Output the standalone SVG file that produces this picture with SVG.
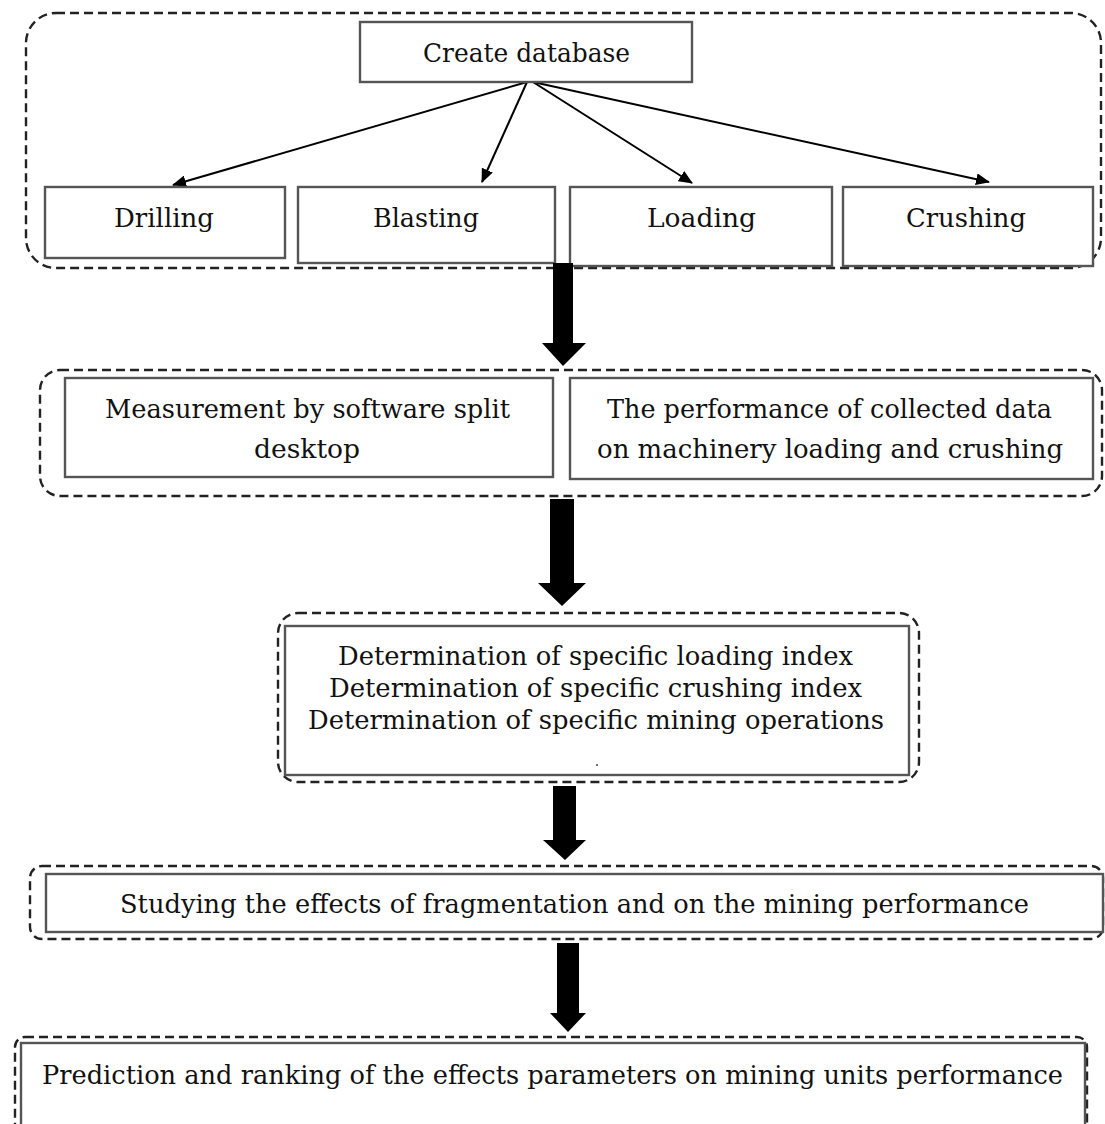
<svg xmlns="http://www.w3.org/2000/svg" width="1105" height="1124" viewBox="0 0 1105 1124">
<defs>
<style>
.cont{fill:none;stroke:#222;stroke-width:2.4;stroke-dasharray:9 5}
.box{fill:#fff;stroke:#555;stroke-width:2.4}
.t{font-family:"DejaVu Serif","Liberation Serif",serif;font-size:26px;fill:#111}
.ln{stroke:#000;stroke-width:2;fill:none}
.big{fill:#000}
</style>
<marker id="ah" viewBox="0 0 14 12" refX="13" refY="6" markerWidth="14" markerHeight="12" markerUnits="userSpaceOnUse" orient="auto">
<path d="M0,0 L14,6 L0,12 z" fill="#000"/>
</marker>
</defs>
<rect width="1105" height="1124" fill="#fff"/>

<g id="container1"><rect class="cont" x="26" y="13" width="1075" height="255" rx="30"/></g>
<g id="container2"><rect class="cont" x="40" y="370" width="1062" height="126" rx="20"/></g>
<g id="container3"><rect class="cont" x="278" y="613" width="641" height="169" rx="20"/></g>
<g id="container4"><rect class="cont" x="30" y="866" width="1073" height="73" rx="12"/></g>
<g id="container5"><rect class="cont" x="15" y="1037" width="1072" height="100" rx="10"/></g>

<g id="connectors">
<line class="ln" x1="527" y1="82" x2="173" y2="185" marker-end="url(#ah)"/>
<line class="ln" x1="527" y1="82" x2="482" y2="182" marker-end="url(#ah)"/>
<line class="ln" x1="533" y1="82" x2="692" y2="183" marker-end="url(#ah)"/>
<line class="ln" x1="533" y1="82" x2="989" y2="182" marker-end="url(#ah)"/>
</g>

<g id="create-database">
<rect class="box" x="360" y="22" width="332" height="60"/>
<text class="t" x="423" y="62" textLength="207" lengthAdjust="spacingAndGlyphs">Create database</text>
</g>
<g id="drilling">
<rect class="box" x="45" y="187" width="240" height="71"/>
<text class="t" x="114" y="227" textLength="100" lengthAdjust="spacingAndGlyphs">Drilling</text>
</g>
<g id="blasting">
<rect class="box" x="298" y="187" width="257" height="76"/>
<text class="t" x="373" y="227" textLength="106" lengthAdjust="spacingAndGlyphs">Blasting</text>
</g>
<g id="loading">
<rect class="box" x="570" y="187" width="262" height="79"/>
<text class="t" x="647" y="227" textLength="109" lengthAdjust="spacingAndGlyphs">Loading</text>
</g>
<g id="crushing">
<rect class="box" x="843" y="187" width="250" height="79"/>
<text class="t" x="906" y="227" textLength="120" lengthAdjust="spacingAndGlyphs">Crushing</text>
</g>

<g id="measurement">
<rect class="box" x="65" y="378" width="488" height="99"/>
<text class="t" x="105" y="418" textLength="405" lengthAdjust="spacingAndGlyphs">Measurement by software split</text>
<text class="t" x="254" y="458" textLength="106" lengthAdjust="spacingAndGlyphs">desktop</text>
</g>
<g id="performance">
<rect class="box" x="570" y="378" width="523" height="101"/>
<text class="t" x="607" y="418" textLength="445" lengthAdjust="spacingAndGlyphs">The performance of collected data</text>
<text class="t" x="597" y="458" textLength="466" lengthAdjust="spacingAndGlyphs">on machinery loading and crushing</text>
</g>

<g id="determination">
<rect class="box" x="285" y="626" width="624" height="149"/>
<text class="t" x="338" y="665" textLength="515" lengthAdjust="spacingAndGlyphs">Determination of specific loading index</text>
<text class="t" x="329" y="697" textLength="533" lengthAdjust="spacingAndGlyphs">Determination of specific crushing index</text>
<text class="t" x="308" y="729" textLength="576" lengthAdjust="spacingAndGlyphs">Determination of specific mining operations</text>
<circle cx="597" cy="765" r="1" fill="#444"/>
</g>

<g id="studying">
<rect class="box" x="46" y="874" width="1057" height="58"/>
<text class="t" x="120" y="913" textLength="909" lengthAdjust="spacingAndGlyphs">Studying the effects of fragmentation and on the mining performance</text>
</g>
<g id="prediction">
<rect class="box" x="21" y="1043" width="1064" height="90"/>
<text class="t" x="42" y="1084" textLength="1021" lengthAdjust="spacingAndGlyphs">Prediction and ranking of the effects parameters on mining units performance</text>
</g>

<g id="flow-arrows">
<path class="big" d="M553,263 H573 V343 H586 L563,366 L542,343 H553 Z"/>
<path class="big" d="M550,499 H574 V583 H586 L562,606 L538,583 H550 Z"/>
<path class="big" d="M553,786 H576 V840 H586 L565,860 L543,840 H553 Z"/>
<path class="big" d="M557,943 H579 V1013 H586 L568,1032 L550,1013 H557 Z"/>
</g>
</svg>
